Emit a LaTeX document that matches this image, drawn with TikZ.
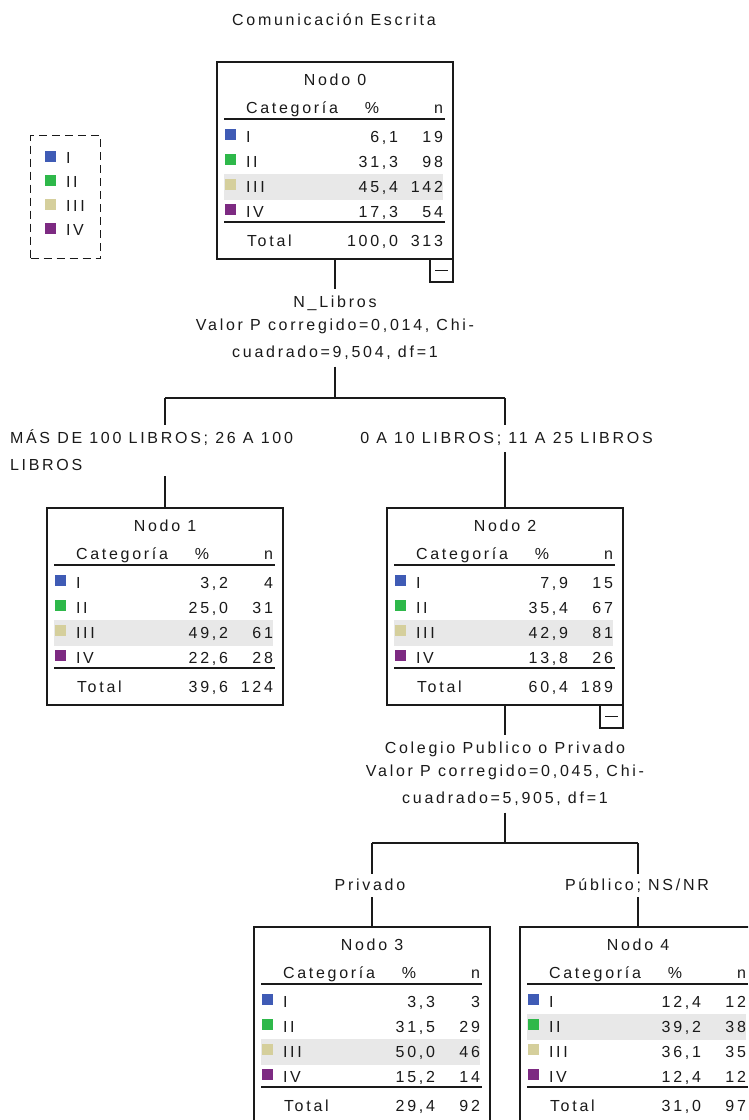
\documentclass[tikz,border=0pt]{standalone}
\usepackage{fontspec}
\setmainfont{Liberation Sans}[LetterSpace=17]
\definecolor{catI}{HTML}{3F5BB5}
\definecolor{catII}{HTML}{2EB84A}
\definecolor{catIII}{HTML}{D5CF9C}
\definecolor{catIV}{HTML}{7D2A82}
\definecolor{band}{HTML}{E8E8E8}
\definecolor{ink}{HTML}{1A1A1A}

\tikzset{
  base/.style={inner sep=0pt, outer sep=0pt, text=ink},
  tbox/.style={draw=ink, line width=1.4pt, minimum width=236pt, minimum height=197pt,
               inner sep=0pt, outer sep=0pt},
  rule/.style={draw=ink, line width=1.3pt},
  conn/.style={draw=ink, line width=1.3pt},
  minusbox/.style={draw=ink, line width=1.3pt, minimum width=23pt, minimum height=23pt,
                   inner sep=0pt, outer sep=0pt},
  splitlbl/.style={align=center, inner xsep=2pt, inner ysep=7pt,
                   font=\fontsize{16}{23}\selectfont},
  brlbl/.style={inner xsep=2pt, inner ysep=5.25pt, text height=11.5pt, text depth=1pt},
}

% one category row of a node table (used inside the table's scope)
\newcommand\tablerow[5]{%
  \fill[#2] (8,{50+25*#1-8}) rectangle (19,{50+25*#1+3});
  \node[base, anchor=base west] at (29,{55.7+25*#1}) {#3};
  \node[base, anchor=base east] at (181,{55.7+25*#1}) {#4};
  \node[base, anchor=base east] at (226,{55.7+25*#1}) {#5};
}
\newcommand\totalrow[2]{%
  \node[base, anchor=base west] at (30,184.7) {Total};
  \node[base, anchor=base east] at (181,184.7) {#1};
  \node[base, anchor=base east] at (226,184.7) {#2};
}
% a tree node: name, left, top, title, highlighted row, rows
\newcommand\nodetable[6]{%
  \begin{scope}[shift={(#2,#3)}]
    \fill[band] (7,{37+25*#5}) rectangle (226,{63+25*#5});
    \node[tbox, anchor=north west] (#1) at (0,0) {};
    \node[base, anchor=base] at (118,23.7) {#4};
    \node[base, anchor=base west] at (29,51.7) {Categoría};
    \node[base, anchor=base] at (155,51.7) {\%};
    \node[base, anchor=base east] at (226,51.7) {n};
    \draw[rule] (7,57) -- (228,57);
    \draw[rule] (7,160) -- (228,160);
    #6
  \end{scope}%
}

\begin{document}
\begin{tikzpicture}[x=1pt, y=-1pt, font=\fontsize{16}{19}\selectfont]
  \useasboundingbox (0,0) rectangle (748,1120);
  \fill[white] (0,0) rectangle (748,1120);
  \clip (0,0) rectangle (748,1120);

  \node[base, anchor=base] (title) at (334,25.7) {Comunicación Escrita};

  % legend
  \node[draw=ink, line width=1.3pt, dash pattern=on 8pt off 5pt, minimum width=70pt,
        minimum height=123pt, inner sep=0pt, anchor=north west] (legend) at (30,135) {};
  \foreach \c/\t [count=\k from 0] in {catI/I, catII/II, catIII/III, catIV/IV} {
    \fill[\c] (45,{157.5+24*\k-7}) rectangle (56,{157.5+24*\k+4});
    \node[base, anchor=base west] at (66,{163.2+24*\k}) {\t};
  }

  % root
  \nodetable{n0}{217}{62}{Nodo 0}{3}{%
    \tablerow{1}{catI}{I}{6,1}{19}
    \tablerow{2}{catII}{II}{31,3}{98}
    \tablerow{3}{catIII}{III}{45,4}{142}
    \tablerow{4}{catIV}{IV}{17,3}{54}
    \totalrow{100,0}{313}}
  \node[minusbox, anchor=north east] (m0) at (n0.south east) {};
  \draw[conn] ([xshift=5pt]m0.west) -- ([xshift=-5pt]m0.east);

  \node[base, splitlbl, anchor=north] (s0) at (335,289)
    {N\_Libros\\Valor P corregido=0,014, Chi-\\[4pt]cuadrado=9,504, df=1};
  \draw[conn] (n0.south) -- (s0.north);
  \coordinate (j0) at (335,398);
  \coordinate (j0l) at (165,398);
  \coordinate (j0r) at (505,398);
  \draw[conn] (s0.south) -- (j0);
  \draw[conn] (j0l) -- (j0r);

  \node[base, anchor=north west, align=left, font=\fontsize{16}{27}\selectfont,
        inner ysep=5pt] (b1) at (10,425) {MÁS DE 100 LIBROS; 26 A 100\\LIBROS};
  \node[base, anchor=north, inner ysep=6.6pt, text height=11.5pt, text depth=2.3pt]
        (b2) at (506.5,425) {0 A 10 LIBROS; 11 A 25 LIBROS};

  % first level
  \nodetable{n1}{47}{508}{Nodo 1}{3}{%
    \tablerow{1}{catI}{I}{3,2}{4}
    \tablerow{2}{catII}{II}{25,0}{31}
    \tablerow{3}{catIII}{III}{49,2}{61}
    \tablerow{4}{catIV}{IV}{22,6}{28}
    \totalrow{39,6}{124}}
  \nodetable{n2}{387}{508}{Nodo 2}{3}{%
    \tablerow{1}{catI}{I}{7,9}{15}
    \tablerow{2}{catII}{II}{35,4}{67}
    \tablerow{3}{catIII}{III}{42,9}{81}
    \tablerow{4}{catIV}{IV}{13,8}{26}
    \totalrow{60,4}{189}}
  \draw[conn] (j0l) -- (j0l |- b1.north);
  \draw[conn] (j0l |- b1.south) -- (n1.north);
  \draw[conn] (j0r) -- (j0r |- b2.north);
  \draw[conn] (j0r |- b2.south) -- (n2.north);

  \node[minusbox, anchor=north east] (m2) at (n2.south east) {};
  \draw[conn] ([xshift=5pt]m2.west) -- ([xshift=-5pt]m2.east);

  \node[base, splitlbl, anchor=north] (s2) at (505,735)
    {Colegio Publico o Privado\\Valor P corregido=0,045, Chi-\\[4pt]cuadrado=5,905, df=1};
  \draw[conn] (n2.south) -- (s2.north);
  \coordinate (j2) at (505,843);
  \coordinate (j2l) at (372,843);
  \coordinate (j2r) at (638,843);
  \draw[conn] (s2.south) -- (j2);
  \draw[conn] (j2l) -- (j2r);

  \node[base, brlbl, anchor=north] (b3) at (370,874) {Privado};
  \node[base, brlbl, anchor=north] (b4) at (637,874) {Público; NS/NR};

  % second level
  \nodetable{n3}{254}{927}{Nodo 3}{3}{%
    \tablerow{1}{catI}{I}{3,3}{3}
    \tablerow{2}{catII}{II}{31,5}{29}
    \tablerow{3}{catIII}{III}{50,0}{46}
    \tablerow{4}{catIV}{IV}{15,2}{14}
    \totalrow{29,4}{92}}
  \nodetable{n4}{520}{927}{Nodo 4}{2}{%
    \tablerow{1}{catI}{I}{12,4}{12}
    \tablerow{2}{catII}{II}{39,2}{38}
    \tablerow{3}{catIII}{III}{36,1}{35}
    \tablerow{4}{catIV}{IV}{12,4}{12}
    \totalrow{31,0}{97}}
  \draw[conn] (j2l) -- (j2l |- b3.north);
  \draw[conn] (j2l |- b3.south) -- (n3.north);
  \draw[conn] (j2r) -- (j2r |- b4.north);
  \draw[conn] (j2r |- b4.south) -- (n4.north);
\end{tikzpicture}
\end{document}
